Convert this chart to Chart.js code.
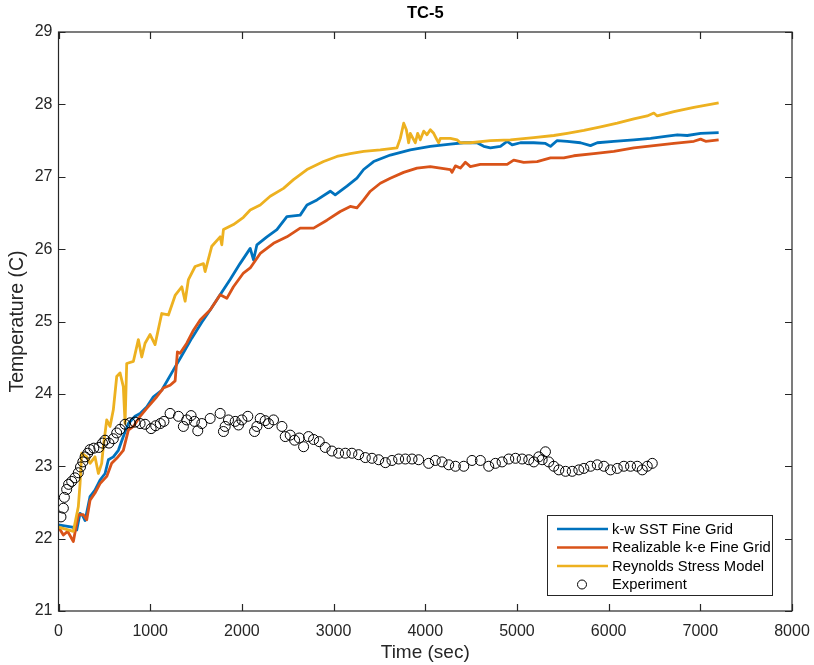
<!DOCTYPE html>
<html>
<head>
<meta charset="utf-8">
<title>TC-5</title>
<script src="https://cdn.jsdelivr.net/npm/chart.js@4.4.1/dist/chart.umd.min.js"></script>
<style>
  html, body { margin: 0; padding: 0; background: #ffffff; }
  #wrap { width: 814px; height: 665px; }
</style>
</head>
<body>
<div id="wrap"><canvas id="c" width="814" height="665"></canvas></div>
<script>
// Thermocouple TC-5: simulated temperatures (three turbulence models) and measurement.
const kwSstTime = [0, 100, 150, 199, 235, 262, 290, 344, 398, 453, 508, 544, 598, 653, 707, 762, 835, 890, 962, 1035,
  1126, 1235, 1345, 1454, 1563, 1654, 1763, 1872, 1980, 2091, 2127, 2164, 2273, 2382, 2491, 2636, 2710, 2819, 2964, 3018,
  3146, 3255, 3328, 3437, 3619, 3837, 4055, 4274, 4419, 4565, 4638, 4710, 4820, 4893, 4948, 5038, 5183, 5311, 5366, 5439,
  5548, 5693, 5802, 5876, 6057, 6275, 6457, 6640, 6749, 6858, 7003, 7200];
const kwSstTemp = [22.19, 22.17, 22.16, 22.12, 22.35, 22.32, 22.25, 22.58, 22.67, 22.81, 22.90, 23.09, 23.13, 23.22, 23.41, 23.59, 23.69, 23.73, 23.82, 23.96,
  24.05, 24.29, 24.53, 24.77, 24.99, 25.16, 25.37, 25.58, 25.80, 26.01, 25.85, 26.06, 26.17, 26.27, 26.45, 26.47, 26.61, 26.68, 26.80, 26.75,
  26.87, 26.98, 27.10, 27.21, 27.30, 27.37, 27.42, 27.45, 27.47, 27.47, 27.42, 27.40, 27.42, 27.49, 27.44, 27.47, 27.47, 27.46, 27.42, 27.50,
  27.49, 27.47, 27.43, 27.47, 27.49, 27.51, 27.53, 27.56, 27.58, 27.57, 27.60, 27.61];

const realKeTime = [0, 53, 100, 162, 216, 271, 308, 344, 398, 453, 526, 580, 635, 707, 762, 817, 890, 962, 1072, 1144,
  1217, 1272, 1297, 1326, 1399, 1472, 1545, 1654, 1763, 1836, 1908, 2017, 2091, 2200, 2345, 2491, 2636, 2782, 2928, 3073,
  3182, 3255, 3328, 3401, 3510, 3619, 3764, 3910, 4055, 4165, 4274, 4292, 4329, 4383, 4438, 4492, 4601, 4710, 4820, 4893,
  4965, 5074, 5220, 5366, 5511, 5620, 5838, 6057, 6275, 6493, 6712, 6930, 7003, 7058, 7200];
const realKeTemp = [22.16, 22.05, 22.10, 21.96, 22.33, 22.33, 22.26, 22.53, 22.63, 22.76, 22.86, 23.04, 23.11, 23.22, 23.50, 23.55, 23.69, 23.80, 23.96, 24.08,
  24.12, 24.18, 24.58, 24.56, 24.70, 24.88, 25.02, 25.16, 25.37, 25.32, 25.48, 25.67, 25.74, 25.94, 26.08, 26.17, 26.29, 26.29, 26.40, 26.52,
  26.59, 26.57, 26.68, 26.80, 26.91, 26.98, 27.06, 27.12, 27.14, 27.12, 27.10, 27.06, 27.15, 27.12, 27.20, 27.14, 27.17, 27.17, 27.17, 27.17,
  27.23, 27.20, 27.21, 27.26, 27.26, 27.29, 27.32, 27.35, 27.40, 27.43, 27.46, 27.49, 27.52, 27.49, 27.51];

const rsmTime = [0, 162, 216, 235, 253, 308, 344, 398, 435, 471, 489, 526, 562, 598, 635, 671, 707, 726, 744, 817,
  871, 908, 944, 999, 1053, 1126, 1199, 1272, 1345, 1381, 1417, 1490, 1581, 1599, 1672, 1763, 1781, 1799, 1908, 2017,
  2091, 2200, 2309, 2454, 2563, 2710, 2891, 3037, 3182, 3328, 3510, 3692, 3728, 3765, 3794, 3819, 3837, 3866, 3892, 3917,
  3946, 3983, 4019, 4055, 4092, 4128, 4146, 4165, 4274, 4347, 4383, 4492, 4710, 4929, 5183, 5402, 5548, 5730, 5912, 6094,
  6275, 6421, 6493, 6530, 6712, 6930, 7200];
const rsmTemp = [22.16, 22.10, 22.44, 22.76, 23.18, 23.13, 23.04, 23.13, 22.90, 23.04, 23.27, 23.64, 23.55, 23.78, 24.24, 24.29, 24.10, 23.59, 24.42, 24.45,
  24.75, 24.51, 24.70, 24.82, 24.68, 25.11, 25.09, 25.36, 25.48, 25.28, 25.58, 25.76, 25.80, 25.69, 26.04, 26.17, 26.06, 26.27, 26.34, 26.44,
  26.54, 26.61, 26.73, 26.84, 26.96, 27.10, 27.21, 27.28, 27.32, 27.35, 27.37, 27.40, 27.53, 27.74, 27.65, 27.47, 27.60, 27.53, 27.47, 27.60,
  27.51, 27.63, 27.58, 27.65, 27.60, 27.51, 27.47, 27.53, 27.53, 27.51, 27.47, 27.47, 27.50, 27.51, 27.54, 27.57, 27.60, 27.64, 27.69, 27.74,
  27.80, 27.84, 27.88, 27.84, 27.90, 27.96, 28.02];

const expTime = [27, 53, 64, 89, 110, 144, 180, 216, 240, 265, 290, 319, 344, 385, 440, 480, 508, 550, 598, 635,
  671, 726, 780, 835, 890, 944, 1010, 1060, 1110, 1150, 1217, 1308, 1362, 1399, 1446, 1483, 1519, 1563, 1654, 1763,
  1799, 1818, 1854, 1927, 1963, 2000, 2065, 2138, 2164, 2200, 2254, 2290, 2345, 2437, 2473, 2527, 2575, 2626, 2673, 2727,
  2782, 2844, 2909, 2982, 3055, 3128, 3200, 3273, 3346, 3419, 3492, 3565, 3637, 3710, 3783, 3856, 3928, 4037, 4110, 4183,
  4256, 4329, 4420, 4510, 4601, 4692, 4765, 4838, 4911, 4984, 5057, 5129, 5184, 5238, 5275, 5311, 5347, 5402, 5457, 5530,
  5603, 5675, 5730, 5803, 5876, 5948, 6021, 6094, 6166, 6239, 6312, 6367, 6421, 6476];
const expTemp = [22.30, 22.42, 22.57, 22.68, 22.75, 22.79, 22.84, 22.91, 22.99, 23.06, 23.13, 23.18, 23.23, 23.25, 23.26, 23.32, 23.36, 23.32, 23.38, 23.46,
  23.51, 23.58, 23.60, 23.61, 23.59, 23.58, 23.52, 23.56, 23.59, 23.62, 23.73, 23.69, 23.55, 23.64, 23.70, 23.62, 23.49, 23.59, 23.66, 23.73,
  23.48, 23.55, 23.64, 23.62, 23.57, 23.64, 23.69, 23.48, 23.55, 23.66, 23.63, 23.59, 23.64, 23.55, 23.41, 23.43, 23.36, 23.39, 23.27, 23.41,
  23.37, 23.34, 23.26, 23.21, 23.18, 23.18, 23.18, 23.16, 23.12, 23.11, 23.09, 23.05, 23.08, 23.10, 23.10, 23.10, 23.09, 23.04, 23.08, 23.06,
  23.02, 23.00, 23.00, 23.08, 23.08, 23.00, 23.04, 23.06, 23.10, 23.11, 23.10, 23.09, 23.06, 23.13, 23.09, 23.20, 23.06, 23.00, 22.95, 22.93,
  22.93, 22.95, 22.97, 23.00, 23.02, 23.00, 22.95, 22.97, 23.00, 23.00, 23.00, 22.95, 23.00, 23.04];

const seriesLabels = ['k-w SST Fine Grid', 'Realizable k-e Fine Grid', 'Reynolds Stress Model', 'Experiment'];
const timeTicks = [0, 1000, 2000, 3000, 4000, 5000, 6000, 7000, 8000];
const tempTicks = [21, 22, 23, 24, 25, 26, 27, 28, 29];

const AX = '#262626';
const FONT = '"Liberation Sans", Arial, Helvetica, sans-serif';

const pairs = (xs, ys) => xs.map((x, i) => ({ x, y: ys[i] }));

// Axes box with inward tick marks on all four sides, plus the title.
const boxAxes = {
  id: 'boxAxes',
  afterDatasetsDraw(chart) {
    const { ctx, chartArea: a, scales: { x, y } } = chart;
    ctx.save();
    ctx.strokeStyle = AX;
    ctx.lineWidth = 1.2;
    ctx.strokeRect(a.left, a.top, a.right - a.left, a.bottom - a.top);
    const len = 7;
    ctx.beginPath();
    timeTicks.forEach(v => {
      const px = Math.round(x.getPixelForValue(v)) + 0.5;
      ctx.moveTo(px, a.bottom); ctx.lineTo(px, a.bottom - len);
      ctx.moveTo(px, a.top); ctx.lineTo(px, a.top + len);
    });
    tempTicks.forEach(v => {
      const py = Math.round(y.getPixelForValue(v)) + 0.5;
      ctx.moveTo(a.left, py); ctx.lineTo(a.left + len, py);
      ctx.moveTo(a.right, py); ctx.lineTo(a.right - len, py);
    });
    ctx.stroke();
    ctx.fillStyle = '#000';
    ctx.font = 'bold 16.5px ' + FONT;
    ctx.textAlign = 'center';
    ctx.textBaseline = 'middle';
    ctx.fillText('TC-5', (a.left + a.right) / 2, 13);
    ctx.restore();
  }
};

// Boxed legend in the lower-right corner of the plot area.
const boxLegend = {
  id: 'boxLegend',
  afterDraw(chart) {
    const { ctx, chartArea: a } = chart;
    const w = 225, h = 80;
    const left = a.right - 20 - w, top = a.bottom - 16 - h;
    ctx.save();
    ctx.fillStyle = '#fff';
    ctx.fillRect(left, top, w, h);
    ctx.strokeStyle = AX;
    ctx.lineWidth = 1;
    ctx.strokeRect(left + 0.5, top + 0.5, w, h);
    ctx.font = '14.8px ' + FONT;
    ctx.textBaseline = 'middle';
    ctx.textAlign = 'left';
    chart.data.datasets.forEach((ds, i) => {
      const cy = top + 14 + i * 18.5;
      if (ds.showLine === false) {
        ctx.beginPath();
        ctx.arc(left + 35, cy, 4.5, 0, Math.PI * 2);
        ctx.strokeStyle = ds.borderColor;
        ctx.lineWidth = 1;
        ctx.stroke();
      } else {
        ctx.beginPath();
        ctx.moveTo(left + 10, cy);
        ctx.lineTo(left + 61, cy);
        ctx.strokeStyle = ds.borderColor;
        ctx.lineWidth = 2.6;
        ctx.stroke();
      }
      ctx.fillStyle = '#000';
      ctx.fillText(ds.label, left + 65, cy + 0.5);
    });
    ctx.restore();
  }
};

const lineDs = (label, xs, ys, color, order) => ({
  label, data: pairs(xs, ys), borderColor: color, backgroundColor: color,
  borderWidth: 2.8, pointRadius: 0, tension: 0, order, borderJoinStyle: 'round'
});

new Chart(document.getElementById('c'), {
  type: 'line',
  data: {
    datasets: [
      lineDs(seriesLabels[0], kwSstTime, kwSstTemp, '#0072BD', 3),
      lineDs(seriesLabels[1], realKeTime, realKeTemp, '#D95319', 2),
      lineDs(seriesLabels[2], rsmTime, rsmTemp, '#EDB120', 1),
      {
        label: seriesLabels[3], data: pairs(expTime, expTemp), showLine: false,
        pointStyle: 'circle', pointRadius: 5, pointBorderWidth: 1,
        borderColor: '#000', backgroundColor: 'rgba(0,0,0,0)', order: 0
      }
    ]
  },
  options: {
    responsive: false,
    animation: false,
    devicePixelRatio: 1,
    layout: { padding: { top: 32, right: 22, left: 0, bottom: 0 } },
    plugins: { legend: { display: false }, tooltip: { enabled: false }, title: { display: false } },
    scales: {
      x: {
        type: 'linear', min: 0, max: 8000,
        afterBuildTicks: s => { s.ticks = timeTicks.map(v => ({ value: v })); },
        afterFit: s => { s.height = 54; s.paddingLeft = 0; s.paddingRight = 0; },
        grid: { display: false, drawTicks: false, tickLength: 0 },
        border: { display: false },
        ticks: { color: AX, font: { family: FONT, size: 16 }, padding: 11, maxRotation: 0, callback: v => String(v) },
        title: { display: true, text: 'Time (sec)', color: AX, font: { family: FONT, size: 19 }, padding: { top: 0, bottom: 1 } }
      },
      y: {
        type: 'linear', min: 21, max: 29,
        afterBuildTicks: s => { s.ticks = tempTicks.map(v => ({ value: v })); },
        afterFit: s => { s.width = 58.5; s.paddingTop = 0; s.paddingBottom = 0; },
        grid: { display: false, drawTicks: false, tickLength: 0 },
        border: { display: false },
        ticks: { color: AX, font: { family: FONT, size: 16 }, padding: 6, callback: v => String(v) },
        title: { display: true, text: 'Temperature (C)', color: AX, font: { family: FONT, size: 19.5 }, padding: { top: 6, bottom: 0 } }
      }
    }
  },
  plugins: [boxAxes, boxLegend]
});
</script>
</body>
</html>
